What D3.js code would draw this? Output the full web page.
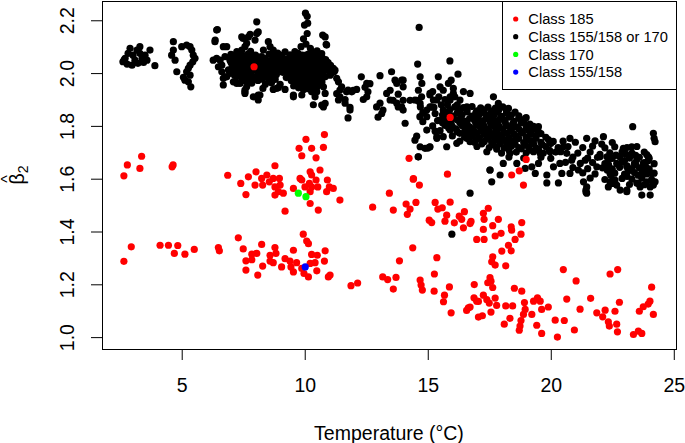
<!DOCTYPE html>
<html>
<head>
<meta charset="utf-8">
<script src="https://cdn.jsdelivr.net/npm/d3@7"></script>
<style>
  body { margin: 0; background: #fff; }
  svg { display: block; font-family: "Liberation Sans", Arial, sans-serif; }
</style>
</head>
<body>
<svg id="chart" width="685" height="443"></svg>
<script>
// tick values and legend
const xTicks = [5, 10, 15, 20, 25];
const yTicks = [1.0, 1.2, 1.4, 1.6, 1.8, 2.0, 2.2];
const legendLabels = ['Class 185', 'Class 155/158 or 170', 'Class 170', 'Class 155/158'];
const legendColors = ['#ff0000', '#000000', '#00ff00', '#0000ff'];

// [temperature, beta2]
const blackLeft = [
  [2.61,2.043],[2.70,2.056],[2.82,2.075],[2.90,2.094],[3.02,2.068],[3.10,2.049],[3.18,2.087],[3.22,2.037],
  [3.30,2.100],[3.39,2.056],[3.51,2.068],[3.59,2.049],[3.71,2.087],[3.91,2.028],[2.78,2.034],[2.98,2.030],
  [3.30,2.075],[2.66,2.050],[3.45,2.040],
  [4.66,2.119],[4.66,2.087],[4.59,2.068],[4.73,2.049],[4.80,2.005],[5.20,2.106],[5.34,2.100],[5.41,2.087],
  [5.47,2.068],[5.54,2.056],[5.45,2.043],[5.34,2.030],[5.27,2.018],[5.20,2.005],[5.34,1.992],[5.13,1.973],
  [5.27,1.967],[5.37,1.948],[5.07,1.984],[5.00,2.100]
];

const blackMain = [
  [6.45,2.165],[6.35,2.119],[6.83,2.100],[6.42,2.056],[6.56,2.049],[6.63,2.030],[6.76,2.062],[6.96,2.049],
  [7.10,2.037],[7.24,2.075],[7.30,2.056],[7.44,2.087],[7.64,2.113],[7.57,2.062],[7.71,2.137],[7.64,2.037],
  [7.37,2.024],[7.10,2.011],[6.96,1.999],[6.83,1.986],[6.69,1.980],[7.24,1.986],[7.44,1.999],[7.64,2.005],
  [7.57,1.973],[7.37,1.961],[7.64,1.948],[7.57,1.923],[7.71,1.967],[7.10,1.967],[6.63,2.005],[6.49,2.024],
  [7.78,2.049],[7.78,2.011],[7.24,1.961],
  [8.05,2.194],[8.05,2.150],[7.78,2.147],[7.50,2.131],[7.98,2.125],[7.57,2.100],[8.52,2.119],[8.59,2.100],
  [7.24,2.081],[8.32,2.087],[8.72,2.087],[9.00,2.068],[9.40,2.056],[8.25,2.062],[7.85,2.068],
  [10.03,2.227],[10.10,2.215],[9.99,2.182],[10.10,2.150],[9.95,2.130],[10.05,2.110],[9.85,2.100],[10.23,2.094],
  [9.73,2.075],[10.05,2.068],
  [10.73,2.144],[10.87,2.109],[10.69,2.074],[10.55,2.049],[10.89,2.043],[11.16,2.018],[11.23,2.011],[11.03,1.992],
  [10.83,1.986],[10.62,1.967],[10.76,1.948],[10.49,1.929],[10.42,1.910],[10.83,1.923],[10.83,1.885],[10.76,1.872],
  [11.37,1.967],[11.43,1.936],
  [7.57,1.929],[8.11,1.917],[8.11,1.898],[8.72,1.938],[8.93,1.945],[9.54,1.917],[9.88,1.917],[10.28,1.929],
  [7.30,2.078],[7.80,2.082],[8.90,2.076],[9.60,2.081],[10.30,2.079],[10.50,2.084],[9.20,2.080],
  [7.44,2.137],[8.11,2.156],[8.85,2.074],[9.40,2.062],[10.12,2.189],[10.83,2.137],[10.89,2.106],[6.36,2.125],
  [6.42,2.163],[6.69,2.100],[6.28,2.049],[6.76,1.986],[6.69,1.955],[7.57,1.936],[7.91,1.910],[8.18,1.917],
  [8.85,1.942],[9.54,1.910],[10.35,1.880],[10.69,1.879],[11.30,1.922],[11.50,1.948],[11.37,1.898],[11.70,1.929],
  [7.10,2.062],[7.35,2.058],[7.60,2.064],[7.90,2.057],[8.15,2.061],[8.40,2.055],[8.70,2.063],[9.10,2.059],
  [9.30,2.052],[9.55,2.061],[9.80,2.056],[10.00,2.063],[10.25,2.058],[10.45,2.054],[10.70,2.060],
  [7.00,2.041],[7.25,2.044],[7.50,2.038],[7.75,2.043],[8.00,2.036],[8.30,2.042],[8.55,2.039],[8.80,2.045],
  [9.05,2.037],[9.30,2.041],[9.50,2.044],[9.75,2.036],[9.95,2.042],[10.20,2.039],[10.40,2.045],[10.65,2.037],
  [10.95,2.040],
  [7.15,2.022],[7.40,2.017],[7.70,2.024],[7.95,2.019],[8.20,2.023],[8.45,2.016],[8.70,2.021],[8.95,2.025],
  [9.20,2.018],[9.45,2.022],[9.65,2.016],[9.90,2.024],[10.15,2.019],[10.35,2.023],[10.60,2.017],[10.85,2.021],
  [7.05,2.003],[7.30,1.998],[7.55,2.002],[7.80,1.996],[8.10,2.004],[8.35,1.999],[8.60,2.001],[8.85,1.995],
  [9.10,2.003],[9.35,1.998],[9.60,2.002],[9.80,1.996],[10.05,2.004],[10.30,1.999],[10.50,2.002],[10.75,1.997],
  [11.10,2.000],
  [7.45,1.982],[7.70,1.978],[7.95,1.983],[8.25,1.977],[8.50,1.981],[8.80,1.976],[9.25,1.983],[9.50,1.978],
  [9.70,1.982],[9.90,1.977],[10.10,1.984],[10.35,1.979],[10.55,1.982],
  [7.85,1.962],[8.40,1.958],[8.65,1.963],[9.00,1.957],[9.60,1.961],[9.85,1.956],[10.00,1.963],[10.20,1.958],
  [10.45,1.962],[10.65,1.957],
  [8.30,1.942],[9.20,1.938],[9.75,1.944],[9.95,1.937],[10.15,1.941],[10.35,1.945],
  [7.20,2.051],[7.50,2.049],[7.80,2.053],[8.05,2.048],[8.30,2.052],[8.60,2.047],[8.90,2.051],[9.20,2.049],
  [9.45,2.053],[9.70,2.047],[9.90,2.051],[10.10,2.048],[10.35,2.052],[10.60,2.049],[10.85,2.051],
  [7.05,2.031],[7.30,2.029],[7.60,2.033],[7.85,2.028],[8.10,2.032],[8.40,2.027],[8.65,2.031],[8.90,2.034],
  [9.15,2.028],[9.40,2.032],[9.60,2.027],[9.85,2.031],[10.05,2.029],[10.30,2.033],[10.50,2.028],[10.75,2.031],
  [11.05,2.029],
  [6.90,2.012],[7.20,2.009],[7.50,2.013],[7.75,2.008],[8.00,2.011],[8.30,2.007],[8.55,2.012],[8.80,2.009],
  [9.00,2.013],[9.30,2.008],[9.50,2.011],[9.75,2.007],[9.95,2.012],[10.20,2.009],[10.45,2.013],[10.65,2.008],
  [10.95,2.011],[11.20,2.006],
  [7.15,1.991],[7.40,1.988],[7.65,1.992],[7.90,1.987],[8.20,1.990],[8.45,1.986],[8.70,1.991],[9.40,1.989],
  [9.60,1.992],[9.85,1.987],[10.05,1.991],[10.25,1.988],[10.45,1.992],[10.70,1.987],
  [7.50,1.971],[7.80,1.968],[8.10,1.972],[8.60,1.969],[9.45,1.972],[9.70,1.967],[9.90,1.971],[10.10,1.968],
  [10.30,1.972],[10.50,1.969],[10.70,1.966],
  [9.55,1.951],[9.80,1.948],[10.05,1.952],[10.25,1.949],[10.50,1.947],
  [7.00,2.071],[7.45,2.069],[7.70,2.073],[8.00,2.068],[8.55,2.072],[9.40,2.069],[9.70,2.073],[9.90,2.068],
  [10.15,2.072],[10.40,2.069],[10.60,2.071]
];

const blackTail = [
  [11.30,1.980],[11.64,1.900],[11.76,1.830],[11.84,1.870],[11.97,1.935],[12.30,1.986],[12.45,1.946],[12.52,1.910],
  [12.65,1.960],[13.06,1.990],[13.06,1.886],[12.98,1.833],[13.18,1.860],[13.53,2.005],[13.67,1.973],[13.47,1.935],
  [13.59,1.897],[13.74,1.886],[13.80,1.920],[14.00,1.973],[14.00,1.897],[14.08,1.810],[13.94,1.872],[14.28,1.897],
  [14.65,2.173],[14.59,2.034],[14.69,1.986],[14.76,1.961],[14.62,1.935],[14.75,1.910],[14.56,1.897],[14.70,1.872],
  [14.80,1.850],[14.68,1.835],[14.55,1.761],[14.69,1.721],[14.61,1.683],[14.96,1.784],[15.00,1.716],[15.08,1.720],
  [11.76,1.936],[11.91,1.929],[12.11,1.938],[11.43,1.910],[11.64,1.886],[11.84,1.860],[12.52,1.961],[12.57,1.929],
  [12.38,1.900],[12.92,1.872],[13.13,1.847],[13.80,1.872],[13.74,1.961],[13.94,1.973],[14.00,1.948],[13.33,1.923],
  [13.47,1.898],[14.00,1.860],[14.48,1.898],[14.69,1.885],[15.09,1.923],[15.16,1.872],[14.96,1.835],[14.80,1.816],
  [14.48,1.746],[14.89,1.715],[15.09,1.721],[15.37,1.753],[14.62,1.683]
];

const blackRight = [
  [15.37,1.898],[15.30,1.847],[15.63,1.860],[16.04,1.923],[16.31,1.898],[16.59,1.872],[16.72,1.923],[16.99,1.853],
  [15.91,1.784],[15.63,1.759],[15.37,1.759],[16.45,1.772],[16.72,1.740],[16.18,1.734],[15.77,1.721],[15.43,1.986],
  [15.23,1.898],[15.09,1.872],[14.96,1.860],[15.50,1.948],[15.09,1.917],[15.84,1.961],[15.91,1.898],[15.90,2.046],
  [16.23,1.996],[15.95,1.973],[15.63,1.935],[16.04,1.942],[15.91,1.910],
  [17.67,1.910],[17.87,1.885],[17.20,1.860],[18.28,1.866],[18.96,1.828],[19.50,1.797],
  [16.72,1.545],[17.60,1.588],[17.53,1.633],[17.94,1.614],[15.98,1.390],
  [15.20,1.930],[15.45,1.910],[15.70,1.900],[15.55,1.880],[15.80,1.880],[15.25,1.870],[16.10,1.910],[16.45,1.930],
  [16.20,1.880],[15.40,1.820],[15.20,1.800],[15.30,1.780],
  [15.90,1.862],[16.30,1.858],[16.60,1.864],[17.00,1.857],[17.30,1.861],[17.60,1.856],[17.90,1.863],[18.20,1.858],
  [15.60,1.842],[16.00,1.838],[16.40,1.843],[16.80,1.837],[17.10,1.844],[17.40,1.839],[17.70,1.842],[18.00,1.836],
  [18.40,1.841],[18.70,1.838],
  [15.50,1.822],[15.80,1.817],[16.20,1.823],[16.50,1.818],[16.90,1.821],[17.20,1.817],[17.50,1.823],[17.80,1.818],
  [18.10,1.822],[18.50,1.817],[18.90,1.821],
  [15.70,1.802],[16.00,1.797],[16.40,1.801],[16.70,1.796],[17.00,1.803],[17.30,1.798],[17.60,1.802],[17.90,1.797],
  [18.20,1.801],[18.60,1.796],[19.00,1.802],[19.30,1.798],
  [15.50,1.782],[16.20,1.778],[16.60,1.783],[16.90,1.777],[17.20,1.781],[17.50,1.778],[17.80,1.782],[18.10,1.776],
  [18.40,1.781],[18.80,1.778],[19.10,1.783],[19.50,1.777],
  [16.00,1.762],[16.50,1.757],[16.80,1.761],[17.10,1.756],[17.40,1.763],[17.70,1.758],[18.00,1.762],[18.30,1.757],
  [18.60,1.761],[19.00,1.758],[19.40,1.762],[19.80,1.757],
  [16.30,1.742],[16.90,1.738],[17.30,1.741],[17.60,1.737],[17.90,1.743],[18.20,1.738],[18.50,1.741],[18.90,1.737],
  [19.20,1.742],[19.60,1.738],[20.10,1.741],
  [17.00,1.722],[17.50,1.718],[17.80,1.721],[18.10,1.717],[18.40,1.723],[18.70,1.718],[19.10,1.721],[19.40,1.717],
  [19.80,1.722],[20.30,1.718],
  [17.40,1.702],[18.00,1.697],[18.60,1.701],[19.00,1.698],[19.30,1.702],[19.70,1.697],[20.20,1.701],
  [18.30,1.682],[18.90,1.678],[19.60,1.681],[20.00,1.677],
  [16.10,1.872],[16.45,1.869],[16.80,1.873],[17.15,1.868],[17.45,1.871],[17.75,1.867],[18.05,1.872],
  [15.80,1.852],[16.20,1.849],[16.60,1.853],[16.95,1.848],[17.25,1.851],[17.55,1.847],[17.85,1.852],[18.20,1.849],
  [18.55,1.852],
  [15.65,1.832],[16.05,1.829],[16.35,1.833],[16.70,1.828],[17.05,1.831],[17.35,1.827],[17.65,1.832],[17.95,1.829],
  [18.30,1.833],[18.70,1.828],[19.00,1.831],
  [15.60,1.812],[15.95,1.809],[16.30,1.813],[16.60,1.808],[16.95,1.811],[17.25,1.807],[17.55,1.812],[17.85,1.809],
  [18.15,1.813],[18.45,1.808],[18.80,1.811],[19.15,1.807],
  [15.85,1.792],[16.15,1.789],[16.50,1.793],[16.85,1.788],[17.15,1.791],[17.45,1.787],[17.75,1.792],[18.05,1.789],
  [18.35,1.793],[18.70,1.788],[19.00,1.791],[19.35,1.787],
  [16.30,1.772],[16.70,1.769],[17.00,1.773],[17.30,1.768],[17.60,1.771],[17.90,1.767],[18.20,1.772],[18.50,1.769],
  [18.85,1.773],[19.20,1.768],[19.60,1.771],
  [16.60,1.752],[17.00,1.749],[17.45,1.753],[17.75,1.748],[18.05,1.751],[18.35,1.747],[18.70,1.752],[19.05,1.749],
  [19.40,1.753],[19.90,1.748],
  [17.20,1.732],[17.65,1.729],[17.95,1.733],[18.25,1.728],[18.55,1.731],[18.95,1.727],[19.30,1.732],[19.65,1.729],
  [20.00,1.733],
  [17.80,1.712],[18.30,1.709],[18.80,1.713],[19.15,1.708],[19.50,1.711],[19.95,1.707]
];

const blackFar = [
  [23.33,1.797],[24.17,1.772],[24.20,1.753],[24.24,1.740],[22.14,1.759],[22.07,1.731],[21.46,1.753],[20.78,1.753],
  [19.97,1.740],[20.51,1.721],[22.95,1.715],[23.29,1.721],[23.97,1.683],[23.76,1.658],[24.10,1.620],[24.17,1.588],
  [24.04,1.569],[23.70,1.620],[23.90,1.588],[23.56,1.582],[23.09,1.645],[23.09,1.557],[22.68,1.658],[22.28,1.683],
  [22.28,1.645],[22.41,1.620],[22.61,1.595],[22.00,1.683],[21.87,1.645],[21.40,1.670],[21.46,1.569],[21.43,1.550],
  [21.12,1.633],[20.85,1.670],[20.65,1.696],[20.78,1.620],[20.37,1.658],[20.11,1.645],[19.84,1.614],[20.45,1.620],
  [19.97,1.702],[19.57,1.696],[19.50,1.658],[19.23,1.645],[19.37,1.620],[18.96,1.639],[18.34,1.696],[18.07,1.658],
  [18.62,1.658],[17.53,1.633],
  [19.84,1.584],[20.31,1.584],[21.33,1.588],[21.43,1.557],[21.46,1.545],[22.34,1.569],[22.41,1.588],[22.68,1.576],
  [22.82,1.557],[23.09,1.551],[23.63,1.569],[23.70,1.538],[24.04,1.538],[24.17,1.576],[24.24,1.588],
  [20.50,1.742],[21.00,1.738],[21.80,1.743],[22.50,1.737],
  [20.70,1.722],[21.30,1.718],[21.70,1.723],[22.20,1.717],[22.60,1.721],[23.10,1.718],[23.50,1.722],
  [20.40,1.702],[21.10,1.697],[21.60,1.701],[22.40,1.698],[22.90,1.702],[23.30,1.697],[23.80,1.701],
  [20.90,1.682],[21.50,1.678],[21.90,1.681],[22.50,1.677],[22.80,1.683],[23.20,1.678],[23.60,1.681],[24.00,1.677],
  [20.60,1.662],[21.20,1.658],[21.70,1.661],[22.20,1.657],[22.90,1.663],[23.40,1.658],[23.80,1.661],[24.20,1.657],
  [20.90,1.642],[21.50,1.638],[22.10,1.641],[22.50,1.637],[22.80,1.643],[23.30,1.638],[23.60,1.641],[24.00,1.637],
  [21.30,1.622],[21.80,1.618],[22.60,1.621],[23.00,1.617],[23.40,1.623],[23.90,1.618],[24.20,1.621],
  [21.60,1.602],[22.20,1.597],[22.90,1.601],[23.30,1.598],[23.70,1.602],[24.10,1.597],
  [22.50,1.582],[23.20,1.578],[23.50,1.583],[23.80,1.577],
  [22.00,1.692],[22.65,1.689],[23.05,1.693],[23.45,1.688],[23.90,1.691],
  [22.35,1.672],[23.00,1.669],[23.50,1.673],[23.95,1.668],
  [22.35,1.652],[23.10,1.649],[23.45,1.653],[23.85,1.648],
  [22.30,1.632],[23.15,1.629],[23.75,1.633],
  [22.45,1.612],[23.10,1.609],[23.55,1.613]
];

const red185 = [
  [3.37,1.685],[2.79,1.652],[3.30,1.639],[2.65,1.611],[4.61,1.645],[4.65,1.652],
  [6.87,1.613],[7.40,1.582],[7.61,1.540],[7.71,1.607],
  [2.65,1.287],[2.95,1.342],[4.12,1.348],[4.46,1.348],[4.84,1.347],[4.70,1.317],[5.13,1.314],[5.51,1.332],
  [6.49,1.339],[6.53,1.327],[7.30,1.376],[7.50,1.334],[7.61,1.289],[7.61,1.254],
  [8.79,1.649],[8.02,1.626],[7.98,1.576],[8.25,1.601],[8.29,1.576],[8.46,1.614],[8.56,1.588],[8.72,1.601],
  [8.79,1.569],[8.79,1.538],[8.97,1.601],[9.00,1.576],[8.93,1.551],[9.13,1.545],[9.20,1.477],[9.54,1.563],
  [9.81,1.601],[9.88,1.595],[10.22,1.626],[10.28,1.614],[10.46,1.595],[10.19,1.582],[10.28,1.569],[10.01,1.569],
  [10.22,1.551],[10.53,1.569],[10.62,1.633],[10.92,1.595],[11.00,1.569],[11.16,1.563],[10.89,1.551],[10.22,1.506],
  [10.55,1.481],[11.43,1.519],
  [10.05,1.749],[10.80,1.767],[9.77,1.715],[10.28,1.715],[10.76,1.719],[9.88,1.687],[10.46,1.679],
  [7.94,2.024],[15.91,1.832],[14.24,1.677],[15.80,1.617],[14.42,1.600],
  [9.94,1.390],[10.08,1.364],[10.15,1.354],[8.25,1.351],[8.79,1.339],[9.54,1.329],[7.85,1.314],[8.05,1.317],
  [8.59,1.310],[8.83,1.317],[7.85,1.293],[8.59,1.288],[8.72,1.282],[9.20,1.297],[9.40,1.288],[9.67,1.282],
  [8.29,1.269],[9.06,1.266],[9.44,1.266],[9.54,1.247],[9.88,1.260],[10.22,1.279],[10.42,1.282],[10.51,1.310],
  [10.83,1.327],[10.80,1.288],[10.28,1.313],[10.49,1.251],[9.97,1.241],[10.15,1.228],[8.09,1.235],[10.96,1.228],
  [11.03,1.235],[11.88,1.195],[12.15,1.205],
  [12.76,1.492],[13.44,1.545],[13.60,1.481],[14.12,1.504],[14.17,1.465],[14.28,1.485],[14.52,1.510],[14.41,1.598],
  [14.66,1.576],[15.30,1.510],[15.41,1.485],[15.59,1.490],[15.91,1.511],[15.06,1.443],[15.16,1.434],[15.70,1.439],
  [15.77,1.462],[16.08,1.433],[16.28,1.458],[16.38,1.446],[16.49,1.475],[16.72,1.430],[16.76,1.438],[16.45,1.414],
  [16.99,1.370],[14.39,1.338],[13.85,1.289],[15.37,1.301],
  [13.17,1.228],[13.37,1.218],[13.71,1.226],[13.60,1.182],[14.69,1.216],[14.73,1.197],[14.78,1.178],[15.27,1.239],
  [15.26,1.174],[15.68,1.159],[15.64,1.134],[15.88,1.190],[15.95,1.092],[16.89,1.199],[16.88,1.149],[16.99,1.136],
  [16.58,1.101],[16.72,1.114],[17.06,1.076],
  [18.89,1.576],[17.26,1.469],[17.29,1.446],[17.46,1.488],[17.26,1.408],[17.29,1.370],[17.64,1.422],[17.74,1.383],
  [17.87,1.446],[17.98,1.393],[18.39,1.418],[18.41,1.405],[18.82,1.434],[18.79,1.390],[18.55,1.370],[18.28,1.348],
  [18.39,1.327],[18.01,1.326],[17.64,1.304],[17.60,1.285],[17.74,1.273],[18.17,1.270],[17.53,1.225],[17.57,1.212],
  [17.44,1.206],[17.64,1.188],[18.52,1.185],[18.82,1.174],[17.06,1.135],[17.26,1.159],[17.40,1.142],[17.50,1.129],
  [17.74,1.148],[17.80,1.120],[17.57,1.095],[17.22,1.081],[16.65,1.111],[18.17,1.118],[18.45,1.118],[18.34,1.071],
  [18.11,1.049],[18.93,1.131],[18.96,1.105],[18.89,1.086],[18.79,1.063],[18.75,1.042],[18.72,1.026],[19.23,1.086],
  [19.43,1.045],[19.63,1.014],[19.30,1.136],[19.46,1.149],[19.57,1.136],[19.63,1.105],[19.90,1.114],[20.27,1.000],
  [20.18,1.064],[20.55,1.063],[20.51,1.256],[20.65,1.144],[21.03,1.213],[21.19,1.106],[20.96,1.027],[21.62,1.147],
  [21.87,1.092],[22.11,1.077],[22.21,1.102],[22.34,1.058],[22.38,1.042],[22.61,1.098],[22.68,1.049],[22.71,1.020],
  [22.79,1.132],[22.41,1.239],[22.72,1.256],[23.36,1.010],[23.56,1.023],[23.70,1.014],[23.60,1.098],[23.76,1.115],
  [23.96,1.125],[24.03,1.136],[24.10,1.189],[24.17,1.086],
  [19.00,1.673],[18.72,1.630],[18.41,1.614]
];

const green170 = [[9.74,1.545],[10.05,1.532]];
const blue155 = [[10.02,1.266]];

const svg = d3.select('#chart');
const plot = { left: 102, right: 676, top: 1, bottom: 349 };

const x = d3.scaleLinear().domain([1.76, 25.09]).range([plot.left, plot.right]);
const y = d3.scaleLinear().domain([0.955, 2.273]).range([plot.bottom, plot.top]);

// x axis
svg.append('g')
  .attr('transform', `translate(0,${plot.bottom})`)
  .call(d3.axisBottom(x).tickValues(xTicks).tickFormat(d3.format('d')).tickSize(11).tickPadding(18))
  .call(g => g.select('.domain').remove())
  .call(g => g.selectAll('line').attr('stroke', '#000'))
  .call(g => g.selectAll('text').attr('font-size', 19.5).attr('fill', '#000')
    .attr('font-family', '"Liberation Sans", Arial, sans-serif'));

// y axis, labels turned like R does
svg.append('g')
  .attr('transform', `translate(${plot.left},0)`)
  .call(d3.axisLeft(y).tickValues(yTicks).tickFormat(d3.format('.1f')).tickSize(11))
  .call(g => g.select('.domain').remove())
  .call(g => g.selectAll('line').attr('stroke', '#000'))
  .call(g => g.selectAll('text')
    .attr('x', null).attr('dy', null)
    .attr('text-anchor', 'middle')
    .attr('transform', 'translate(-28,0) rotate(-90)')
    .attr('font-size', 19.5).attr('fill', '#000')
    .attr('font-family', '"Liberation Sans", Arial, sans-serif'));

// points
const layers = [
  [blackLeft, '#000'], [blackMain, '#000'], [blackTail, '#000'], [blackRight, '#000'], [blackFar, '#000'],
  [red185, '#ff0000'], [green170, '#00ff00'], [blue155, '#0000ff']
];
layers.forEach(([pts, col]) => {
  svg.append('g').selectAll('circle')
    .data(pts)
    .enter()
    .append('circle')
    .attr('cx', d => x(d[0]))
    .attr('cy', d => y(d[1]))
    .attr('r', 3.6)
    .attr('fill', col);
});

// plot box
svg.append('rect')
  .attr('x', plot.left + 0.5).attr('y', plot.top + 0.5)
  .attr('width', plot.right - plot.left).attr('height', plot.bottom - plot.top)
  .attr('fill', 'none').attr('stroke', '#000').attr('stroke-width', 1);

// axis titles
svg.append('text')
  .attr('x', (plot.left + plot.right) / 2).attr('y', 440)
  .attr('text-anchor', 'middle').attr('font-size', 19.5)
  .text('Temperature (°C)');

const yl = svg.append('g')
  .attr('transform', `translate(24,${(plot.top + plot.bottom) / 2}) rotate(-90)`);
const yt = yl.append('text')
  .attr('text-anchor', 'middle').attr('font-size', 19.5);
yt.append('tspan').text('β');
yt.append('tspan').attr('font-size', 14).attr('dy', 4).text('2');
yl.append('text')
  .attr('x', -4).attr('y', -11)
  .attr('text-anchor', 'middle').attr('font-size', 16)
  .text('^');

// legend
const lg = svg.append('g');
lg.append('rect')
  .attr('x', 502.5).attr('y', plot.top + 0.5)
  .attr('width', plot.right - 502).attr('height', 88)
  .attr('fill', '#fff').attr('stroke', '#000').attr('stroke-width', 1);
const rows = lg.selectAll('g.row')
  .data(legendLabels)
  .enter()
  .append('g')
  .attr('transform', (d, i) => `translate(0,${19 + i * 17.7})`);
rows.append('circle').attr('cx', 515.7).attr('cy', 0).attr('r', 2.6)
  .attr('fill', (d, i) => legendColors[i]);
rows.append('text').attr('x', 528.3).attr('y', 5.2)
  .attr('font-size', 14.7).attr('fill', '#000')
  .text(d => d);
</script>
</body>
</html>
